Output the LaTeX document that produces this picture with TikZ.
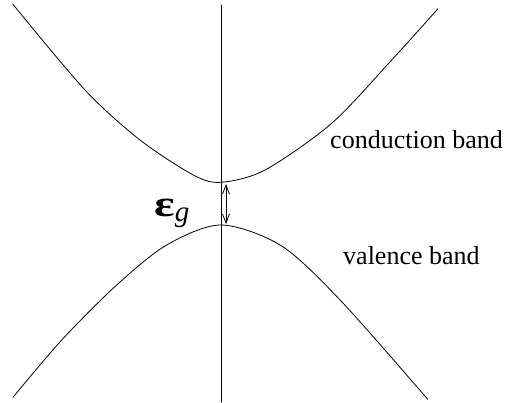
\documentclass[tikz,border=0pt]{standalone}
\usepackage{graphicx}
\usepackage{fontspec}
\setmainfont{Liberation Serif}
\usetikzlibrary{arrows.meta}
\begin{document}
\begin{tikzpicture}[x=1pt,y=-1pt,>={Straight Barb[length=9pt,width=7pt]}, line join=round, line cap=round,
  band/.style={line width=0.8pt},
  lbl/.style={font=\fontsize{26}{30}\selectfont, inner sep=0pt, anchor=base west}]
\useasboundingbox (0,0) rectangle (505,402);
\coordinate (ktop) at (221,5);
\coordinate (kbot) at (221,402);
\draw[line width=0.7pt] (ktop)--(kbot);
% conduction band
\draw[band] plot[smooth] coordinates {(12.7,4) (85,90) (140,140) (193.3,175) (221,182.3) (265,170) (331.7,123.3) (391.7,60) (437.7,9)};
% valence band
\draw[band] plot[smooth] coordinates {(13,397.3) (61.7,340) (116.7,285) (166.7,245) (221,225) (281.7,246) (341.7,301.7) (427.7,399.3)};
\coordinate (cbmin) at (226,184);
\coordinate (vbmax) at (226,224);
\draw[<->,line width=0.8pt] (cbmin)--(vbmax);
\node[lbl] (cb) at (330,148) {conduction band};
\node[lbl] (vb) at (343,264) {valence band};
\node[inner sep=0pt, anchor=base west] (eg) at (154,216)
  {{\bfseries\fontsize{37}{40}\selectfont\scalebox{1.3}[1]{ε}}{\itshape\fontsize{29}{30}\selectfont\raisebox{-5pt}{g}}};
\end{tikzpicture}
\end{document}
